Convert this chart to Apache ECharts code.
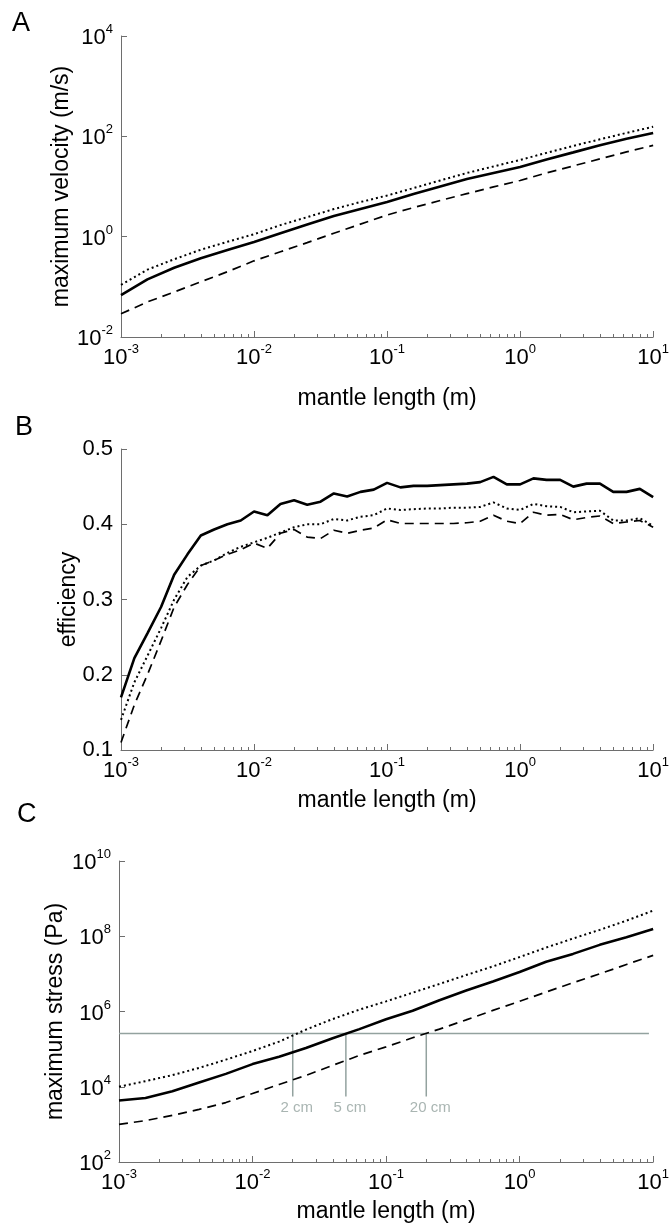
<!DOCTYPE html>
<html><head><meta charset="utf-8">
<script src="https://cdn.jsdelivr.net/npm/echarts@6/dist/echarts.min.js"></script>
<style>html,body{margin:0;padding:0;background:#fff}#c{width:672px;height:1224px}</style>
</head><body><div id="c"></div>
<script>
// ---------- data ----------
const xTickValues = [0.001, 0.01, 0.1, 1, 10];
const velTickValues = [0.01, 1, 100, 10000];
const effTickValues = [0.1, 0.2, 0.3, 0.4, 0.5];
const stressTickValues = [1e2, 1e4, 1e6, 1e8, 1e10];

// mantle length (m) sample points, panels A and C
const lengthAC = [0.001, 0.00158, 0.00251, 0.00398, 0.00631, 0.01, 0.0158, 0.0251, 0.0398, 0.0631,
  0.1, 0.158, 0.251, 0.398, 0.631, 1, 1.58, 2.51, 3.98, 6.31, 10];
// mantle length (m) sample points, panel B
const lengthB = [0.001, 0.00126, 0.00158, 0.002, 0.00251, 0.00316, 0.00398, 0.00501, 0.00631, 0.00794,
  0.01, 0.0126, 0.0158, 0.02, 0.0251, 0.0316, 0.0398, 0.0501, 0.0631, 0.0794,
  0.1, 0.126, 0.158, 0.2, 0.251, 0.316, 0.398, 0.501, 0.631, 0.794,
  1, 1.26, 1.58, 2, 2.51, 3.16, 3.98, 5.01, 6.31, 7.94, 10];

// A: maximum velocity (m/s)
const velSolid  = [0.068, 0.141, 0.24, 0.37, 0.54, 0.78, 1.17, 1.74, 2.57, 3.55, 4.9, 7.1, 10.0, 14.1, 18.6, 24.5, 34.7, 47.9, 66.1, 89.1, 117];
const velDotted = [0.11, 0.22, 0.355, 0.55, 0.79, 1.12, 1.7, 2.45, 3.55, 4.9, 6.6, 9.3, 13.2, 18.6, 25.1, 33.9, 46.8, 64.6, 87.1, 117, 155];
const velDashed = [0.029, 0.05, 0.079, 0.126, 0.2, 0.33, 0.5, 0.76, 1.17, 1.78, 2.7, 3.8, 5.25, 7.2, 9.8, 13.2, 18.6, 25.7, 35.5, 49, 66];

// B: efficiency
const effSolid  = [0.170,0.222,0.255,0.290,0.333,0.360,0.385,0.393,0.400,0.405,0.417,0.412,0.427,0.432,0.426,0.430,0.441,0.437,0.443,0.446,0.455,0.449,0.451,0.451,0.452,0.453,0.454,0.456,0.463,0.453,0.453,0.461,0.459,0.459,0.450,0.454,0.454,0.443,0.443,0.447,0.436];
const effDotted = [0.140,0.190,0.225,0.262,0.300,0.330,0.345,0.352,0.362,0.370,0.376,0.382,0.389,0.396,0.400,0.400,0.407,0.405,0.410,0.412,0.421,0.419,0.420,0.421,0.421,0.422,0.422,0.423,0.429,0.421,0.419,0.427,0.424,0.423,0.416,0.417,0.418,0.405,0.405,0.408,0.398];
const effDashed = [0.110,0.160,0.200,0.245,0.290,0.320,0.345,0.352,0.360,0.366,0.375,0.368,0.388,0.393,0.383,0.381,0.392,0.388,0.392,0.395,0.406,0.401,0.401,0.401,0.401,0.401,0.402,0.404,0.412,0.404,0.401,0.416,0.412,0.413,0.406,0.409,0.411,0.401,0.403,0.405,0.396];

// C: maximum stress (Pa)
const stressSolid  = [4.3e3, 5.0e3, 7.6e3, 1.3e4, 2.2e4, 4.0e4, 6.3e4, 1.07e5, 1.95e5, 3.4e5, 6.2e5, 1.05e6, 2.0e6, 3.6e6, 6.3e6, 1.12e7, 2.1e7, 3.4e7, 5.9e7, 9.4e7, 1.55e8];
const stressDotted = [1.0e4, 1.41e4, 2.04e4, 3.16e4, 5.25e4, 8.9e4, 1.58e5, 3.3e5, 6.3e5, 1.12e6, 1.86e6, 3.16e6, 5.4e6, 9.3e6, 1.58e7, 2.8e7, 5.0e7, 8.7e7, 1.48e8, 2.6e8, 4.8e8];
const stressDashed = [1.0e3, 1.26e3, 1.74e3, 2.5e3, 3.8e3, 6.6e3, 1.15e4, 2.0e4, 3.7e4, 6.8e4, 1.15e5, 2.0e5, 3.4e5, 6.0e5, 1.07e6, 1.86e6, 3.3e6, 5.8e6, 1.0e7, 1.78e7, 3.1e7];

// C: stress threshold and crossing lengths
const stressThreshold = 2.6e5;
const thresholdSpan = [0.001, 9.3];
const crossLengths = [0.02, 0.05, 0.2];
const crossLabels = ['2 cm', '5 cm', '20 cm'];
const crossBottom = 5.5e3;

// ---------- chart ----------
const FONT = '"Liberation Sans", Arial, Helvetica, sans-serif';
const AXIS_COLOR = '#6e6e6e';
const GRAY = '#93a29f';

const minorVals = [];
[0.001, 0.01, 0.1, 1].forEach(d => { for (let m = 2; m <= 9; m++) minorVals.push(+(d * m).toPrecision(3)); });

const powRich = {
  b: {fontSize: 22, fontFamily: FONT, color: '#000', lineHeight: 26, verticalAlign: 'bottom'},
  e: {fontSize: 13, fontFamily: FONT, color: '#000', lineHeight: 14, verticalAlign: 'top'}
};
const powFmt = v => '{b|10}{e|' + Math.round(Math.log10(v)) + '}';

const grids = [
  {left: 121, top: 36, width: 535, height: 301},
  {left: 121, top: 449, width: 535, height: 301},
  {left: 119, top: 861, width: 536, height: 301}
];

function xAxes(g, gap) {
  return [{
    type: 'log', logBase: 10, gridIndex: g, min: 0.001, max: 10, position: 'bottom',
    axisLine: {show: true, lineStyle: {color: AXIS_COLOR, width: 1}},
    axisTick: {show: true, inside: true, length: 6, customValues: xTickValues, lineStyle: {color: AXIS_COLOR}},
    axisLabel: {show: true, customValues: xTickValues, formatter: powFmt, rich: powRich, margin: 6},
    splitLine: {show: false}, minorTick: {show: false},
    name: 'mantle length (m)', nameLocation: 'middle', nameGap: gap, nameMoveOverlap: false,
    nameTextStyle: {fontSize: 23, fontFamily: FONT, color: '#000'}
  }, {
    type: 'log', logBase: 10, gridIndex: g, min: 0.001, max: 10, position: 'bottom',
    axisLine: {show: false},
    axisTick: {show: true, inside: true, length: 3, customValues: minorVals, lineStyle: {color: AXIS_COLOR}},
    axisLabel: {show: false}, splitLine: {show: false}
  }];
}

function yAxis(g, type, min, max, ticks, fmt, rich, name, gap) {
  const ax = {
    type: type, gridIndex: g, min: min, max: max,
    axisLine: {show: true, lineStyle: {color: AXIS_COLOR, width: 1}},
    axisTick: {show: true, inside: true, length: 6, customValues: ticks, lineStyle: {color: AXIS_COLOR}},
    axisLabel: {show: true, customValues: ticks, formatter: fmt, margin: 8, fontSize: 22, fontFamily: FONT, color: '#000'},
    splitLine: {show: false},
    name: name, nameLocation: 'middle', nameGap: gap, nameRotate: 90, nameMoveOverlap: false,
    nameTextStyle: {fontSize: 23, fontFamily: FONT, color: '#000'}
  };
  if (type === 'log') ax.logBase = 10;
  if (rich) ax.axisLabel.rich = rich;
  return ax;
}

const zip = (xs, ys) => xs.map((x, i) => [x, ys[i]]);

function lineSeries(xi, yi, data, kind) {
  const ls = kind === 'solid' ? {color: '#000', width: 2.6, type: 'solid'}
    : kind === 'dashed' ? {color: '#000', width: 1.7, type: [9, 6]}
    : {color: '#000', width: 2, type: [2, 3]};
  return {type: 'line', xAxisIndex: xi, yAxisIndex: yi, data: data, showSymbol: false, symbol: 'none',
    lineStyle: ls, silent: true, animation: false, z: 3};
}

const series = [];
[['solid', velSolid], ['dotted', velDotted], ['dashed', velDashed]].forEach(([k, d]) => series.push(lineSeries(0, 0, zip(lengthAC, d), k)));
[['solid', effSolid], ['dotted', effDotted], ['dashed', effDashed]].forEach(([k, d]) => series.push(lineSeries(2, 1, zip(lengthB, d), k)));
[['solid', stressSolid], ['dotted', stressDotted], ['dashed', stressDashed]].forEach(([k, d]) => series.push(lineSeries(4, 2, zip(lengthAC, d), k)));

// threshold line
series.push({type: 'line', xAxisIndex: 4, yAxisIndex: 2, showSymbol: false, symbol: 'none', animation: false, silent: true, z: 2,
  data: thresholdSpan.map(x => [x, stressThreshold]), lineStyle: {color: GRAY, width: 1.5}});
crossLengths.forEach(x => series.push({type: 'line', xAxisIndex: 4, yAxisIndex: 2, showSymbol: false, symbol: 'none', animation: false, silent: true, z: 2,
  data: [[x, stressThreshold], [x, crossBottom]], lineStyle: {color: GRAY, width: 1.5}}));
series.push({type: 'scatter', xAxisIndex: 4, yAxisIndex: 2, symbolSize: 0.1, animation: false, silent: true,
  itemStyle: {color: 'rgba(0,0,0,0)'},
  data: crossLengths.map((x, i) => [x, crossBottom, crossLabels[i]]),
  label: {show: true, position: 'bottom', distance: 4, offset: [4, 0], formatter: p => p.value[2],
    fontSize: 15, fontFamily: FONT, color: GRAY}});

const option = {
  backgroundColor: '#fff',
  animation: false,
  grid: grids,
  xAxis: [...xAxes(0, 50), ...xAxes(1, 39), ...xAxes(2, 38)],
  yAxis: [
    yAxis(0, 'log', 0.01, 10000, velTickValues, powFmt, powRich, 'maximum velocity (m/s)', 48),
    yAxis(1, 'value', 0.1, 0.5, effTickValues, v => v.toFixed(1), null, 'efficiency', 41),
    yAxis(2, 'log', 100, 1e10, stressTickValues, powFmt, powRich, 'maximum stress (Pa)', 52)
  ],
  graphic: [
    {type: 'text', left: 12, top: 10, style: {text: 'A', fontSize: 27, fontFamily: FONT, fill: '#000'}},
    {type: 'text', left: 15, top: 414, style: {text: 'B', fontSize: 27, fontFamily: FONT, fill: '#000'}},
    {type: 'text', left: 17, top: 801, style: {text: 'C', fontSize: 27, fontFamily: FONT, fill: '#000'}}
  ],
  series: series
};

const chart = echarts.init(document.getElementById('c'), null, {renderer: 'canvas'});
chart.setOption(option);
</script>
</body></html>
